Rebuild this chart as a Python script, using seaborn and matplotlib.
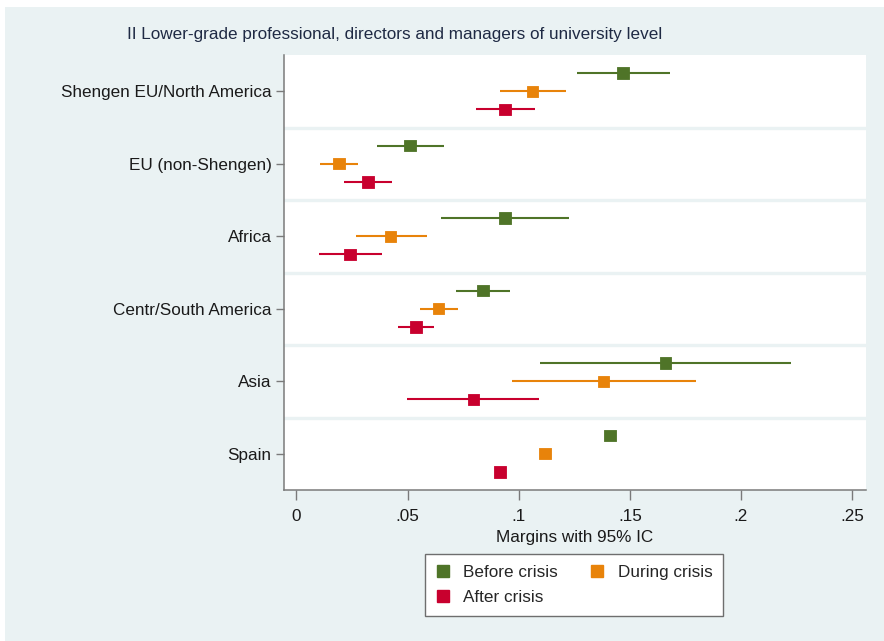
import matplotlib
matplotlib.use("Agg")
import matplotlib.pyplot as plt
from matplotlib.lines import Line2D
from matplotlib.patches import Rectangle
import numpy as np
import pandas as pd
import seaborn as sns

# Origin groups, top to bottom
regions = ["Shengen EU/North America", "EU (non-Shengen)", "Africa",
           "Centr/South America", "Asia", "Spain"]
periods = ["Before crisis", "During crisis", "After crisis"]

# Predicted margins and 95% confidence bounds per period
before_est = [0.1469, 0.0512, 0.0939, 0.0839, 0.1661, 0.1411]
before_lo = [0.1261, 0.0362, 0.0651, 0.0720, 0.1096, 0.1390]
before_hi = [0.1680, 0.0663, 0.1226, 0.0960, 0.2225, 0.1432]

during_est = [0.1063, 0.0191, 0.0424, 0.0639, 0.1382, 0.1118]
during_lo = [0.0915, 0.0104, 0.0266, 0.0557, 0.0968, 0.1098]
during_hi = [0.1211, 0.0278, 0.0586, 0.0725, 0.1797, 0.1138]

after_est = [0.0939, 0.0321, 0.0240, 0.0538, 0.0796, 0.0916]
after_lo = [0.0808, 0.0216, 0.0100, 0.0458, 0.0498, 0.0898]
after_hi = [0.1073, 0.0428, 0.0383, 0.0617, 0.1092, 0.0934]

x_ticks = [0, 0.05, 0.1, 0.15, 0.2, 0.25]
x_ticklabels = ["0", ".05", ".1", ".15", ".2", ".25"]

colors = {"Before crisis": "#4f7428", "During crisis": "#e8830a",
          "After crisis": "#c8002e"}
offsets = {"Before crisis": -0.25, "During crisis": 0.0, "After crisis": 0.25}
bg = "#eaf2f3"

frames = []
for name, est, lo, hi in [("Before crisis", before_est, before_lo, before_hi),
                          ("During crisis", during_est, during_lo, during_hi),
                          ("After crisis", after_est, after_lo, after_hi)]:
    frames.append(pd.DataFrame({"region": regions, "period": name,
                                "est": est, "lo": lo, "hi": hi}))
df = pd.concat(frames, ignore_index=True)
df["ypos"] = df["region"].map({r: i for i, r in enumerate(regions)}) \
    + df["period"].map(offsets)

sns.set_theme(style="white")
plt.rcParams["font.family"] = ["Liberation Sans", "DejaVu Sans"]

fig = plt.figure(figsize=(8.84, 6.41), dpi=100, facecolor="white")
fig.patches.append(Rectangle((5 / 884, 0), 1, 1 - 7 / 641,
                             transform=fig.transFigure, facecolor=bg,
                             edgecolor="none", zorder=-10))
ax = fig.add_axes([284 / 884, 1 - 490 / 641, (866 - 284) / 884, (490 - 55) / 641])
ax.set_facecolor("white")

# Band separators between region groups
for b in np.arange(0.5, len(regions) - 0.5, 1.0):
    ax.axhline(b, color=bg, lw=2.4, zorder=1)

# Confidence intervals
for name in periods:
    sub = df[df["period"] == name]
    ax.hlines(sub["ypos"], sub["lo"], sub["hi"], color=colors[name],
              lw=1.5, zorder=2)

sns.scatterplot(data=df, x="est", y="ypos", hue="period", hue_order=periods,
                palette=colors, marker="s", s=68, linewidth=0.6,
                edgecolor=[colors[p] for p in df["period"]],
                legend=False, ax=ax, zorder=3)

ax.set_xlim(-0.0056, 0.2563)
ax.set_ylim(len(regions) - 0.5, -0.5)
ax.set_yticks(range(len(regions)))
ax.set_yticklabels(regions)
ax.set_xticks(x_ticks)
ax.set_xticklabels(x_ticklabels)
ax.set_ylabel("")
ax.set_xlabel("Margins with 95% IC", fontsize=12.3, color="#1a1a1a", labelpad=4)

for s in ["top", "right"]:
    ax.spines[s].set_visible(False)
for s in ["left", "bottom"]:
    ax.spines[s].set_color("#7a7a7a")
    ax.spines[s].set_linewidth(1.1)
ax.tick_params(axis="y", length=6, width=1, color="#7a7a7a", pad=3,
               labelsize=12.3, labelcolor="#1a1a1a", left=True)
ax.tick_params(axis="x", length=7, width=1, color="#7a7a7a", pad=7,
               labelsize=12.3, labelcolor="#1a1a1a", bottom=True)

fig.text(127 / 884, 1 - 35 / 641,
         "II Lower-grade professional, directors and managers of university level",
         fontsize=12.3, color="#1f2a44", ha="left", va="center")

handles = [Line2D([], [], marker="s", ls="none", color=colors[p],
                  markersize=8, label=p)
           for p in ["Before crisis", "After crisis", "During crisis"]]
leg = fig.legend(handles=handles, ncol=2, loc="center",
                 bbox_to_anchor=(574 / 884, 1 - 585 / 641),
                 fontsize=12.3, frameon=True, fancybox=False,
                 edgecolor="#6e6e6e", facecolor="white", framealpha=1,
                 handlelength=0.8, handletextpad=0.8, columnspacing=1.9,
                 labelspacing=0.62, borderpad=0.6, borderaxespad=0)
leg.get_frame().set_linewidth(1.0)

fig.savefig("out.png", dpi=100, facecolor=fig.get_facecolor())
